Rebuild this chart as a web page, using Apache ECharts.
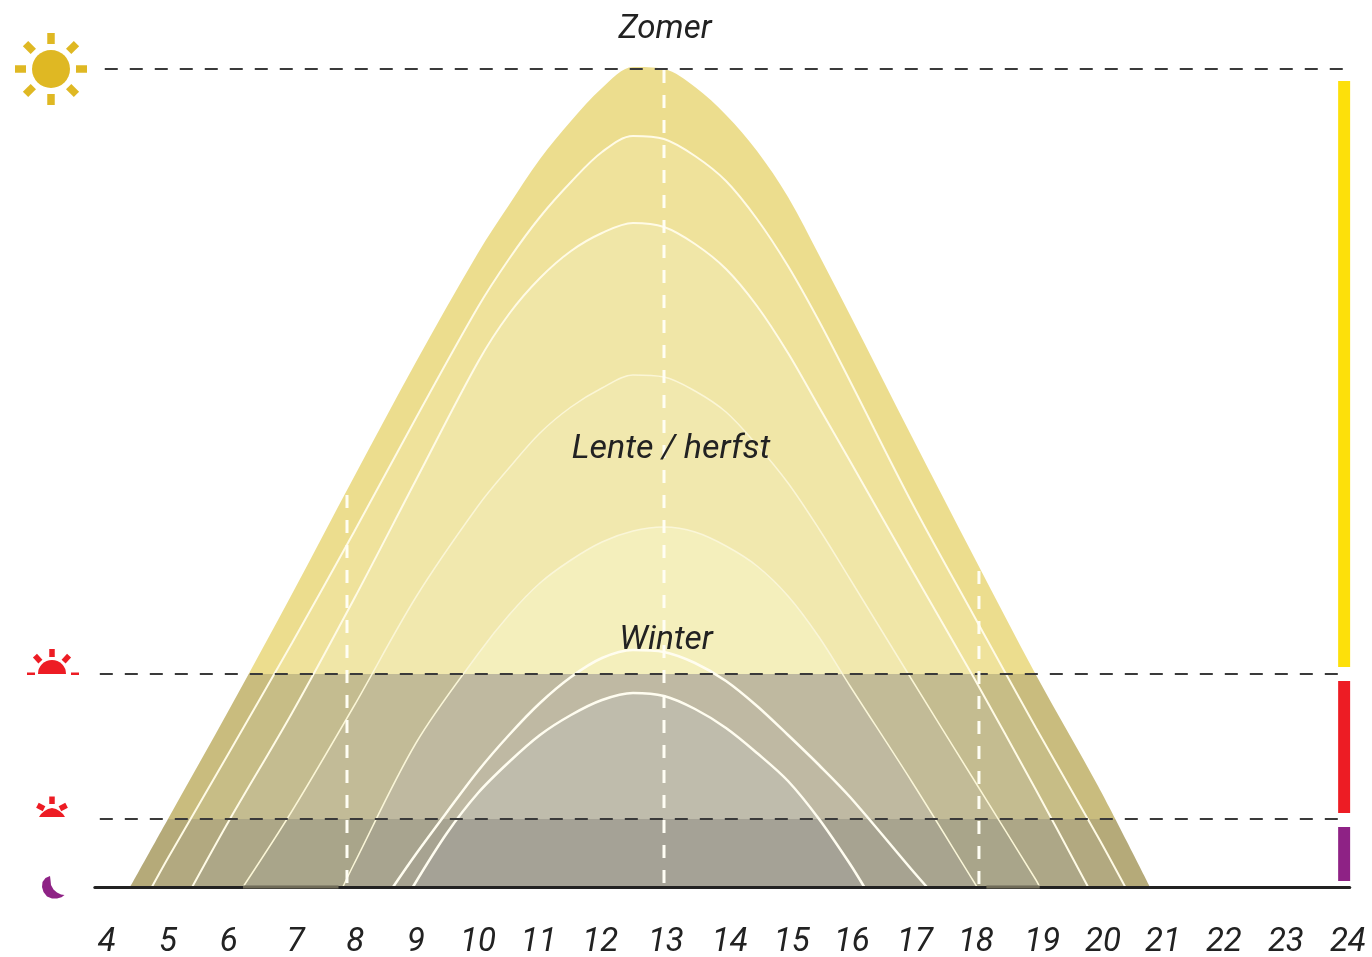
<!DOCTYPE html>
<html>
<head>
<meta charset="utf-8">
<title>Zon</title>
<script src="https://cdn.jsdelivr.net/npm/echarts@6/dist/echarts.min.js"></script>
<style>
html, body { margin: 0; padding: 0; background: #fff; }
#chart { width: 1372px; height: 957px; }
</style>
</head>
<body>
<div id="chart"></div>
<script>
// tick labels, nudged a little like the hand placed ones in the picture
var tickLabels = ['4','5','6','7','8','9','10','11','12','13','14','15','16','17','18','19','20','21','22','23','24'];
var tickHours = [4.01,5,5.98,7.06,8.02,9,10,10.98,11.97,13.03,14.06,15.06,16.03,17.05,18.03,19.1,20.08,21.05,22.03,23.03,24.03];

// day curves, outer (summer) to inner (winter); height has no unit in the picture
var curve1Hours = [4.39,5,6,7,8,9,10,10.5,11,11.5,12,12.5,13,13.5,14,14.5,15,15.5,16,17,18,19,20,20.84];
var curve1Heights = [0,68,179,293,410,525,634,682,728,766,799,820,818,800,772,736,690,632,572,450,330,212,101,0];
var curve2Hours = [4.74,5,6,7,8,9,10,10.5,11,11.5,12,12.5,13,13.5,14,14.5,15,15.5,16,17,18,19,20,20.44];
var curve2Heights = [0,29,136,244,355,469,580,628,670,705,735,751,748,731,706,668,621,566,506,384,271,159,50,0];
var curve3Hours = [5.39,6,7,8,9,10,10.5,11,11.5,12,12.5,13,13.5,14,14.5,15,15.5,16,17,18,19,19.84];
var curve3Heights = [0,68,174,288,407,525,573,609,636,654,664,660,643,618,581,534,480,426,317,209,97,0];
var curve4Hours = [6.21,7,8,9,10,10.5,11,11.5,12,12.5,13,13.5,14,14.5,15,15.5,16,17,18,19,19.06];
var curve4Heights = [0,76,181,290,381,419,454,480,499,512,510,496,475,442,404,358,308,207,107,7,0];
var curve5Hours = [7.82,8,9,10,10.5,11,11.5,12,12.5,13,13.5,14,14.5,15,15.5,16,17,18,18.05];
var curve5Heights = [0,23,144,233,272,304,327,345,356,360,355,341,321,291,250,201,105,5,0];
var curve6Hours = [8.63,9,9.5,10,10.5,11,11.5,12,12.5,13,13.5,14,14.5,15,15.5,16,17,17.24];
var curve6Heights = [0,33,75,116,152,184,210,229,237,235,224,206,181,152,122,90,17,0];
var curve7Hours = [8.95,9.5,10,10.5,11,11.5,12,12.5,13,13.5,14,14.5,15,15.5,16,16.23];
var curve7Heights = [0,54,94,125,152,172,187,194,191,178,159,134,106,68,23,0];

// levels of the dashed lines
var fullSunLevel = 818;
var sunriseLevel = 213;
var dawnLevel = 68;
var levelLineStart = [3.98, 3.90, 3.90];
var levelLineEnd = 24.06;

// white dashed hour marks
var markHours = [7.887, 13, 18.08];
var markTops = [392, 817, 316];

// coloured bars on the right: from, to
var barHour = 23.97;
var yellowBar = [806, 220];
var redBar = [206, 74];
var purpleBar = [60, 6];

var curves = [
	{ hours: curve1Hours, heights: curve1Heights, fills: ['#ecdd8e', '#c9bc7e', '#b5aa79'], line: null, width: 0 },
	{ hours: curve2Hours, heights: curve2Heights, fills: ['#efe29b', '#c7bd86', '#b2a980'], line: '#fffbe6', width: 2 },
	{ hours: curve3Hours, heights: curve3Heights, fills: ['#f0e6a7', '#c4bc90', '#ada787'], line: '#fffbe6', width: 2 },
	{ hours: curve4Hours, heights: curve4Heights, fills: ['#f1e8ae', '#c2bb97', '#a9a58a'], line: '#fbf6d6', width: 1.5 },
	{ hours: curve5Hours, heights: curve5Heights, fills: ['#f4efbc', '#bfb9a0', '#a8a48f'], line: '#faf6d8', width: 1.5 },
	{ hours: curve6Hours, heights: curve6Heights, fills: ['#f4efbc', '#bfb9a3', '#a7a391'], line: '#fffdf0', width: 2.5 },
	{ hours: curve7Hours, heights: curve7Heights, fills: ['#f4efbc', '#bfbcac', '#a5a296'], line: '#fffdf0', width: 2.5 }
];

function zip(xs, ys) {
	return xs.map(function (x, i) { return [x, ys[i]]; });
}

// hard colour steps at the two dashed levels, as fractions of the curve's own height
function bandFill(curve) {
	var peak = Math.max.apply(null, curve.heights);
	var a = Math.max(0, 1 - sunriseLevel / peak);
	var b = 1 - dawnLevel / peak;
	return new echarts.graphic.LinearGradient(0, 0, 0, 1, [
		{ offset: 0, color: curve.fills[0] },
		{ offset: a, color: curve.fills[0] },
		{ offset: a, color: curve.fills[1] },
		{ offset: b, color: curve.fills[1] },
		{ offset: b, color: curve.fills[2] },
		{ offset: 1, color: curve.fills[2] }
	]);
}

var series = [];

curves.forEach(function (curve) {
	series.push({
		type: 'line',
		data: zip(curve.hours, curve.heights),
		smooth: 0.33,
		symbol: 'none',
		silent: true,
		clip: false,
		z: 2,
		lineStyle: curve.line ? { color: curve.line, width: curve.width } : { width: 0 },
		areaStyle: { color: bandFill(curve), opacity: 1 }
	});
});

function straightLine(data, color, width, dash, z) {
	return {
		type: 'line',
		data: data,
		symbol: 'none',
		silent: true,
		clip: false,
		z: z,
		lineStyle: { color: color, width: width, type: dash || 'solid', cap: 'butt' }
	};
}

// baseline shows through the fills on these stretches
series.push(straightLine([[6.21, 0], [7.75, 0]], '#6f6b58', 3, null, 6));
series.push(straightLine([[18.2, 0], [19.06, 0]], '#6f6b58', 3, null, 6));

[fullSunLevel, sunriseLevel, dawnLevel].forEach(function (level, i) {
	series.push(straightLine([[levelLineStart[i], level], [levelLineEnd, level]], '#3a3a3a', 2.2, [13, 12], 7));
});

markHours.forEach(function (hour, i) {
	series.push(straightLine([[hour, markTops[i]], [hour, 0]], '#fffef4', 3, [13, 12], 8));
});

[[yellowBar, '#fde00a'], [redBar, '#ed1c24'], [purpleBar, '#8e2285']].forEach(function (bar) {
	series.push(straightLine([[barHour, bar[0][0]], [barHour, bar[0][1]]], bar[1], 12, null, 8));
});

// small pictures on the left
var SUN = '#dfb823', RED = '#ed1c24', MOON = '#8e2285';
var graphics = [];

function ray(cx, cy, angle, from, len, w, color) {
	return {
		type: 'rect', x: cx, y: cy, rotation: -angle * Math.PI / 180, z: 20, silent: true,
		shape: { x: -w / 2, y: -from - len, width: w, height: len },
		style: { fill: color }
	};
}

graphics.push({ type: 'circle', shape: { cx: 51, cy: 69, r: 19 }, style: { fill: SUN }, z: 20, silent: true });
[0, 45, 90, 135, 180, 225, 270, 315].forEach(function (a) {
	graphics.push(ray(51, 69, a, 25, 11, 7.5, SUN));
});

// sun half up
graphics.push({ type: 'sector', shape: { cx: 52, cy: 674, r: 14, startAngle: Math.PI, endAngle: 2 * Math.PI }, style: { fill: RED }, z: 20, silent: true });
[-43, 0, 43].forEach(function (a) {
	graphics.push(ray(52, 674, a, 17, 8, 5.5, RED));
});
graphics.push({ type: 'rect', shape: { x: 27, y: 672.5, width: 8, height: 2.5 }, style: { fill: RED }, z: 20, silent: true });
graphics.push({ type: 'rect', shape: { x: 71, y: 672.5, width: 8, height: 2.5 }, style: { fill: RED }, z: 20, silent: true });

// sun just under the horizon
graphics.push({
	type: 'polygon', z: 20, silent: true, style: { fill: RED },
	shape: { points: [[39,817],[41,814],[44.5,811],[48,809],[52,808],[56,809],[59.5,811],[63,814],[65,817]] }
});
[-62, 0, 62].forEach(function (a) {
	graphics.push(ray(52, 813, a, 9, 7.5, 5.5, RED));
});

// moon
graphics.push({
	type: 'polygon', z: 20, silent: true, style: { fill: MOON },
	shape: { points: [[50,876],[45.5,878],[42.5,882],[42,887],[43.5,892],[47,896.5],[52,898.5],[57,898.5],[61.5,897.3],[64.5,895],[61,894.5],[57,892.5],[53.5,889.5],[51,885],[50.5,880]] }
});

// season names
[['Zomer', 665, 30, 33], ['Lente / herfst', 671, 449, 34], ['Winter', 666, 641, 33.5]].forEach(function (t) {
	graphics.push({
		type: 'text', x: t[1], y: t[2], z: 20, silent: true,
		style: { text: t[0], fill: '#222', font: 'italic ' + t[3] + 'px Roboto', align: 'center', verticalAlign: 'middle' }
	});
});

var chart = echarts.init(document.getElementById('chart'));
chart.setOption({
	backgroundColor: '#fff',
	animation: false,
	grid: { left: 94.84, right: 22.28, top: 57, bottom: 70, outerBoundsMode: 'none' },
	xAxis: {
		type: 'value',
		min: 3.82,
		max: 24.06,
		z: 5,
		splitLine: { show: false },
		axisLine: { show: true, onZero: false, lineStyle: { color: '#222', width: 3 } },
		axisTick: { show: false },
		axisLabel: {
			customValues: tickHours,
			margin: 39,
			color: '#222',
			fontFamily: 'Roboto',
			fontStyle: 'italic',
			fontSize: 33,
			formatter: function (value) { return tickLabels[tickHours.indexOf(value)]; }
		}
	},
	yAxis: { type: 'value', min: 0, max: 830, show: false },
	graphic: graphics,
	series: series
});
</script>
</body>
</html>
